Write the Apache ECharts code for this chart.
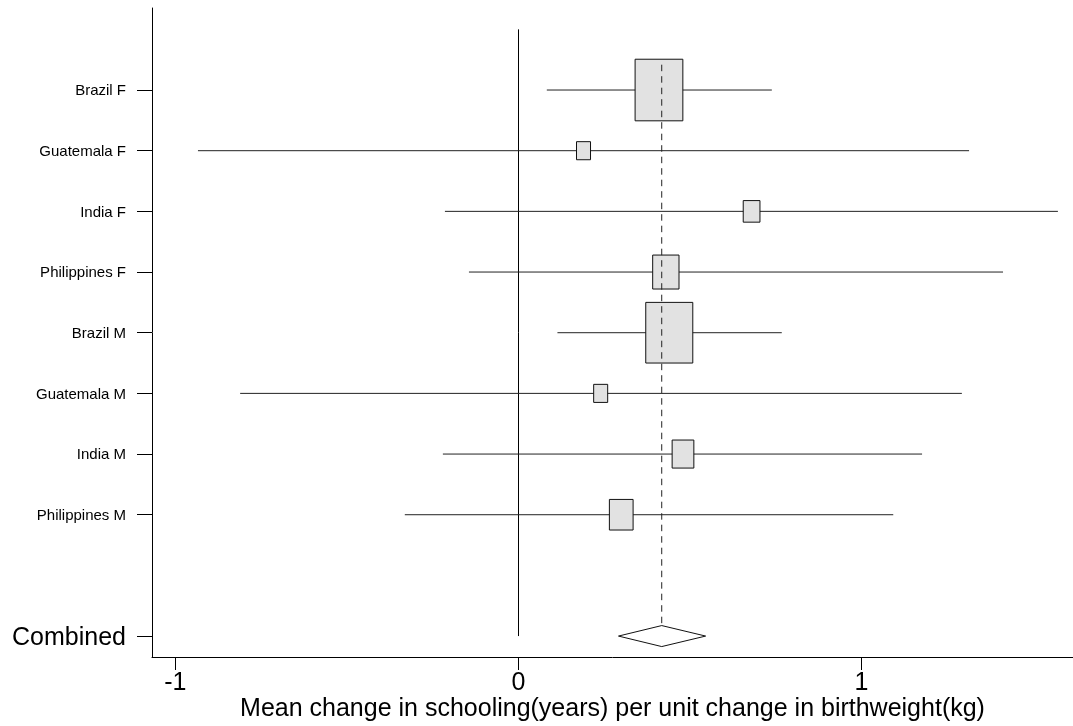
<!DOCTYPE html>
<html><head><meta charset="utf-8">
<script src="https://cdn.jsdelivr.net/npm/echarts@6/dist/echarts.min.js"></script>
<style>html,body{margin:0;padding:0;background:#fff}#c{width:1073px;height:726px}</style>
</head><body><div id="c"></div>
<script>
// ---- data ----
const studies   = ['Brazil F','Guatemala F','India F','Philippines F','Brazil M','Guatemala M','India M','Philippines M'];
const studyRows = [1,2,3,4,5,6,7,8];
const estimates = [0.41, 0.19, 0.68, 0.43, 0.44, 0.24, 0.48, 0.30];
const lowerCI   = [0.083, -0.934, -0.214, -0.144, 0.114, -0.811, -0.220, -0.331];
const upperCI   = [0.739, 1.314, 1.573, 1.413, 0.768, 1.293, 1.177, 1.093];
const weights   = [33.1, 2.85, 4.06, 10.06, 32.1, 2.85, 6.85, 8.17];
const combinedLabel = 'Combined';
const combinedRow = 10;
const combinedEst = [0.418];
const combinedLo  = [0.292];
const combinedHi  = [0.546];
const xTickValues = [-1, 0, 1];
const xAxisTitle = 'Mean change in schooling(years) per unit change in birthweight(kg)';

// ---- chart ----
const FONT = "'Liberation Sans', Arial, sans-serif";
const rowLabels = {};
studies.forEach((s, i) => rowLabels[studyRows[i]] = s);
rowLabels[combinedRow] = combinedLabel;
const yTickValues = studyRows.concat([combinedRow]);

const studyData = studies.map((s, i) => [estimates[i], studyRows[i], lowerCI[i], upperCI[i], weights[i]]);
const combData = [[combinedEst[0], combinedRow, combinedLo[0], combinedHi[0]]];

const chart = echarts.init(document.getElementById('c'), null, {renderer: 'canvas'});
chart.setOption({
  animation: false,
  backgroundColor: '#fff',
  grid: {left: 152, right: 0, top: 8, bottom: 69, containLabel: false, outerBoundsMode: 'none'},
  xAxis: {
    type: 'value', min: -1.068, max: 1.617, position: 'bottom',
    axisLine: {show: true, onZero: false, lineStyle: {color: '#000', width: 1}},
    splitLine: {show: false},
    axisTick: {show: true, length: 13, customValues: xTickValues, lineStyle: {color: '#000'}},
    axisLabel: {customValues: xTickValues, color: '#000', fontFamily: FONT, fontSize: 25, margin: 14,
      formatter: v => String(v)},
    name: xAxisTitle, nameLocation: 'middle', nameGap: 40, nameMoveOverlap: false,
    nameTextStyle: {color: '#000', fontFamily: FONT, fontSize: 25}
  },
  yAxis: {
    type: 'value', inverse: true, min: -0.352, max: 10.345, position: 'left',
    axisLine: {show: true, onZero: false, lineStyle: {color: '#000', width: 1}},
    splitLine: {show: false},
    axisTick: {show: true, length: 15, customValues: yTickValues, lineStyle: {color: '#000'}},
    axisLabel: {customValues: yTickValues, margin: 26, color: '#000',
      formatter: v => (v === combinedRow ? '{c|' + rowLabels[v] + '}' : '{s|' + (rowLabels[v] || '') + '}'),
      rich: {
        s: {fontFamily: FONT, fontSize: 15, color: '#000', padding: [2, 0, 0, 0]},
        c: {fontFamily: FONT, fontSize: 25, color: '#000', padding: [4, 0, 0, 0]}
      }
    }
  },
  series: [
    { // zero reference line
      type: 'custom', silent: true, data: [[0, 0, combinedRow]],
      renderItem: (p, api) => {
        const a = api.coord([api.value(0), api.value(1)]);
        const b = api.coord([api.value(0), api.value(2)]);
        return {type: 'line', shape: {x1: Math.round(a[0]) + 0.5, y1: a[1], x2: Math.round(a[0]) + 0.5, y2: b[1]},
          style: {stroke: '#000', lineWidth: 1}};
      }
    },
    { // studies
      type: 'custom', silent: true, data: studyData,
      renderItem: (p, api) => {
        const y = api.value(1);
        const c = api.coord([api.value(0), y]);
        const l = api.coord([api.value(2), y]);
        const h = api.coord([api.value(3), y]);
        const w = 8.3 * Math.sqrt(api.value(4));
        const hh = 1.29 * w;
        return {type: 'group', children: [
          {type: 'line', shape: {x1: l[0], y1: c[1], x2: h[0], y2: c[1]}, style: {stroke: '#222', lineWidth: 1}},
          {type: 'rect', shape: {x: c[0] - w / 2, y: c[1] - hh / 2, width: w, height: hh},
            style: {fill: '#e2e2e2', stroke: '#111', lineWidth: 1}}
        ]};
      }
    },
    { // pooled estimate dashed line
      type: 'custom', silent: true, data: [[combinedEst[0], 0.5, combinedRow]],
      renderItem: (p, api) => {
        const a = api.coord([api.value(0), api.value(1)]);
        const b = api.coord([api.value(0), api.value(2)]);
        return {type: 'line', shape: {x1: a[0], y1: a[1], x2: b[0], y2: b[1] - 10.5},
          style: {stroke: '#222', lineWidth: 1, lineDash: [6.5, 5], lineDashOffset: 6.5}};
      }
    },
    { // combined diamond
      type: 'custom', silent: true, data: combData,
      renderItem: (p, api) => {
        const y = api.value(1);
        const c = api.coord([api.value(0), y]);
        const l = api.coord([api.value(2), y]);
        const h = api.coord([api.value(3), y]);
        return {type: 'polygon', shape: {points: [[l[0], c[1]], [c[0], c[1] - 10.5], [h[0], c[1]], [c[0], c[1] + 10.5]]},
          style: {fill: '#fff', stroke: '#111', lineWidth: 1}};
      }
    }
  ]
});
</script></body></html>
